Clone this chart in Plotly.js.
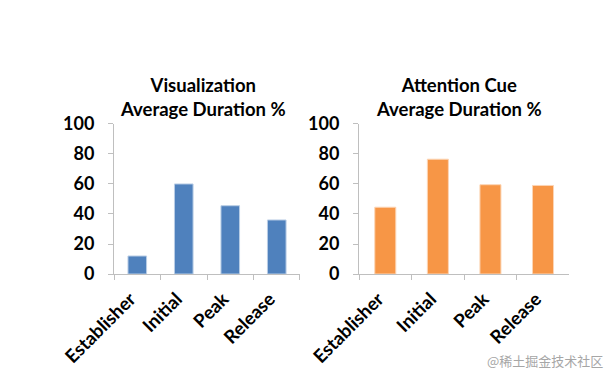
<!DOCTYPE html>
<html>
<head>
<meta charset="utf-8">
<script src="https://cdn.plot.ly/plotly-3.0.1.min.js"></script>
<style>html,body{margin:0;padding:0;background:#fff;}#chart{width:614px;height:379px;}</style>
</head>
<body>
<div id="chart"></div>
<script>
var categories = ["Establisher", "Initial", "Peak", "Release"];
var visualizationValues = [12, 60, 45.5, 36];
var attentionValues = [44.5, 76.5, 59.5, 59];
var yTickValues = [0, 20, 40, 60, 80, 100];
var titleLeft = "Visualization<br>Average Duration %";
var titleRight = "Attention Cue<br>Average Duration %";
var watermark = "@稀土掘金技术社区";

var FONT = "Lato, 'Open Sans', 'Liberation Sans', sans-serif";
var axisColor = "#BFBFBF";

function xAxis(domain, anchor) {
  return {
    domain: domain, anchor: anchor, type: "category",
    showline: true, linecolor: axisColor, linewidth: 1,
    ticks: "outside", tickson: "boundaries", ticklen: 5, tickcolor: axisColor,
    tickangle: -45, showgrid: false, zeroline: false,
    ticklabelshift: -7, ticklabelstandoff: 6,
    tickfont: {family: FONT, size: 18.5, color: "#000", weight: "bold"}
  };
}
function yAxis(anchor) {
  return {
    domain: [0.277, 0.673], anchor: anchor, range: [0, 100],
    tickvals: yTickValues, ticktext: yTickValues.map(String),
    showline: true, linecolor: axisColor, linewidth: 1,
    ticks: "outside", ticklen: 5, tickcolor: axisColor,
    ticklabelstandoff: 10,
    showgrid: false, zeroline: false,
    tickfont: {family: FONT, size: 18, color: "#000", weight: "bold"}
  };
}

var data = [
  {type: "bar", x: categories, y: visualizationValues, xaxis: "x", yaxis: "y",
   marker: {color: "#4F81BD", line: {color: "#B9CDE5", width: 1}}, width: 0.4, hoverinfo: "x+y"},
  {type: "bar", x: categories, y: attentionValues, xaxis: "x2", yaxis: "y2",
   marker: {color: "#F79646", line: {color: "#FCD5B5", width: 1}}, width: 0.4, hoverinfo: "x+y"}
];

var layout = {
  width: 614, height: 379,
  margin: {l: 0, r: 0, t: 0, b: 0},
  paper_bgcolor: "#fff", plot_bgcolor: "#fff",
  showlegend: false,
  xaxis: xAxis([0.1857, 0.4886], "y"),
  yaxis: yAxis("x"),
  xaxis2: xAxis([0.5847, 0.9272], "y2"),
  yaxis2: yAxis("x2"),
  annotations: [
    {text: titleLeft, xref: "paper", yref: "paper", x: 0.331, y: 0.745, xanchor: "center", yanchor: "middle",
     showarrow: false, font: {family: FONT, size: 18.5, color: "#000", weight: "bold"}},
    {text: titleRight, xref: "paper", yref: "paper", x: 0.748, y: 0.745, xanchor: "center", yanchor: "middle",
     showarrow: false, font: {family: FONT, size: 18.5, color: "#000", weight: "bold"}},
    {text: watermark, xref: "paper", yref: "paper", x: 0.985, y: 0.048, xanchor: "right", yanchor: "middle",
     showarrow: false, font: {family: "'Noto Sans CJK SC', sans-serif", size: 13, color: "#A6A6A6"}}
  ]
};

Plotly.newPlot("chart", data, layout, {displayModeBar: false, staticPlot: true});
</script>
</body>
</html>
